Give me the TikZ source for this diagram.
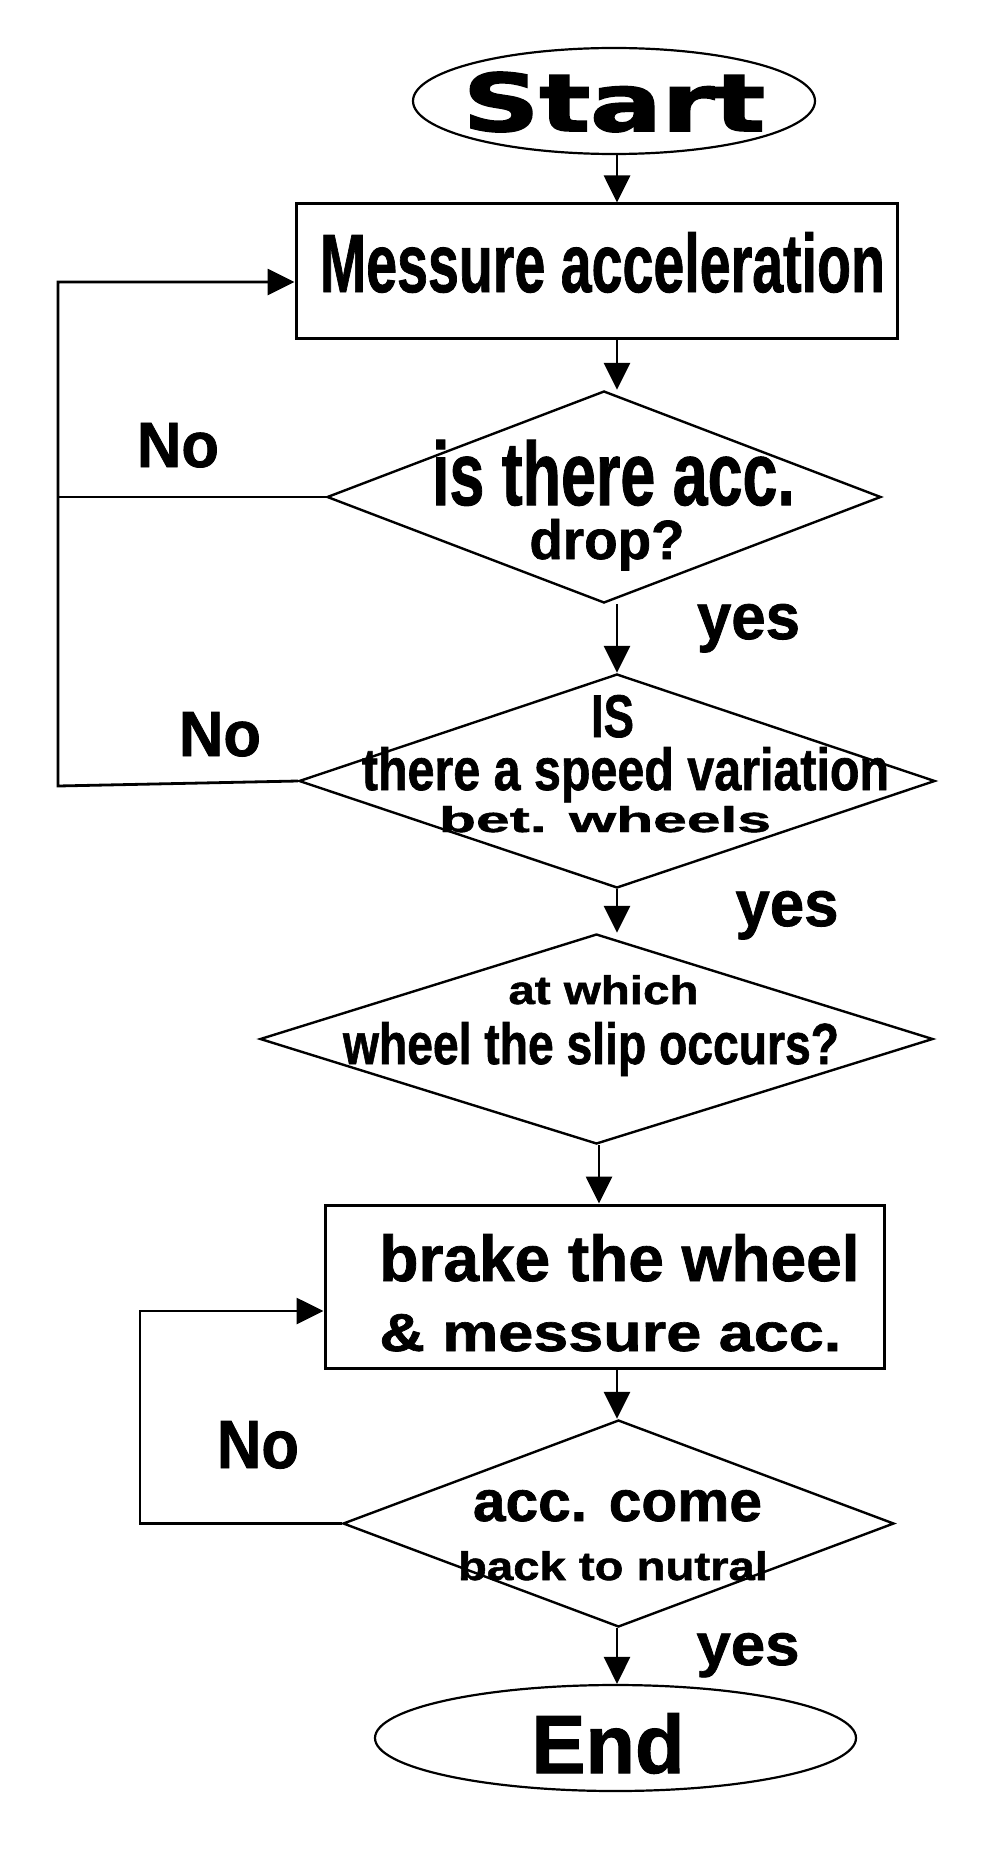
\documentclass[tikz,border=0pt]{standalone}
\usepackage{fontspec}
\setmainfont{Liberation Sans}[BoldFeatures={FakeBold=1.2}]
\newfontfamily\heavyfont{DejaVu Sans}[BoldFeatures={FakeBold=2}]
\usetikzlibrary{arrows.meta,shapes.geometric}
\newcommand{\fit}[3]{\resizebox{#1pt}{#2pt}{\bfseries #3}}
\newcommand{\fitheavy}[3]{\resizebox{#1pt}{#2pt}{\heavyfont\bfseries #3}}
\begin{document}
\begin{tikzpicture}[x=1pt,y=-1pt,
  line width=2.8pt,
  arr/.style={-{Triangle[length=27pt,width=26pt]}},
  lbl/.style={inner sep=0pt, anchor=base},
  shp/.style={draw, line width=2.4pt, inner sep=0pt},
  boxshape/.style={shp, rectangle, line width=3pt},
  ovalshape/.style={shp, ellipse, line width=2.2pt},
  decshape/.style={shp, diamond, line width=2.4pt}]
\useasboundingbox (0,0) rectangle (1000,1862);
\fill[white] (0,0) rectangle (1000,1862);

% shapes
\node[ovalshape, minimum width=402pt, minimum height=106pt] (start) at (614,101) {};
\node[boxshape, minimum width=601pt, minimum height=134pt] (box1) at (596.5,271) {};
\node[decshape, minimum width=554pt, minimum height=212pt] (d1) at (604,497) {};
\node[decshape, minimum width=636pt, minimum height=214pt] (d2) at (617,781) {};
\node[decshape, minimum width=673pt, minimum height=210pt] (d3) at (596.5,1039) {};
\node[boxshape, minimum width=559pt, minimum height=163pt] (box2) at (604.5,1286.5) {};
\node[decshape, minimum width=551pt, minimum height=207pt] (d4) at (618.5,1523.5) {};
\node[ovalshape, minimum width=481pt, minimum height=106pt] (end) at (615.5,1738) {};

% spine coordinates
\coordinate (sp) at (617,0);
\coordinate (sp2) at (599,0);

% main arrows
\draw[arr] (start.south -| sp) -- (box1.north -| sp);
\draw[arr] (box1.south -| sp) -- (d1.north -| sp);
\draw[arr] (d1.south -| sp) -- (d2.north -| sp);
\draw[arr] (d2.south -| sp) -- (d3.north -| sp);
\draw[arr] (d3.south -| sp2) -- (box2.north -| sp2);
\draw[arr] (box2.south -| sp) -- (d4.north -| sp);
\draw[arr] (d4.south -| sp) -- (end.north -| sp);

% loops
\coordinate (l1top) at (58,282);
\coordinate (l1bot) at (58,786);
\draw[arr] (d2.west) -- (l1bot) -- (l1top) -- (l1top -| box1.west);
\draw (d1.west) -- (d1.west -| l1top);
\coordinate (l2top) at (140,1311);
\draw[arr] (d4.west) -- (d4.west -| l2top) -- (l2top) -- (l2top -| box2.west);

% texts
\node[lbl] (tstart) at (614,131) {\fitheavy{302}{59}{Start}};
\node[lbl] (tbox1) at (602.5,292) {\fit{565}{60}{Messure acceleration}};
\node[lbl] (td1a) at (613.5,505) {\fit{363}{65}{is there acc.}};
\node[lbl] (td1b) at (607,559) {\fit{155}{40}{drop?}};
\node[lbl] (td2a) at (612.5,737) {\fit{43}{42}{IS}};
\node[lbl] (td2b) at (625.5,790) {\fit{527}{43}{there a speed variation}};
\node[lbl] (td2c) at (605,832) {\fit{332}{26}{bet. wheels}};
\node[lbl] (td3a) at (603.5,1004) {\fit{190}{29}{at which}};
\node[lbl] (td3b) at (591,1064) {\fit{496}{42}{wheel the slip occurs?}};
\node[lbl, anchor=base west] (tbox2a) at (378,1281) {\fit{480}{47}{brake the wheel}};
\node[lbl, anchor=base west] (tbox2b) at (378,1351) {\fit{462}{37}{\&\ messure acc.}};
\node[lbl] (td4a) at (617.5,1521) {\fit{289}{31}{acc. come}};
\node[lbl] (td4b) at (613,1580) {\fit{310}{29}{back to nutral}};
\node[lbl] (tend) at (608,1773) {\fit{153}{60}{End}};

\node[lbl] (yes1) at (748.5,639) {\fit{103}{35}{yes}};
\node[lbl] (yes2) at (787,926) {\fit{103}{35}{yes}};
\node[lbl] (yes3) at (748,1665) {\fit{103}{32}{yes}};
\node[lbl] (no1) at (178,467) {\fit{82}{44}{No}};
\node[lbl] (no2) at (220,756) {\fit{82}{44}{No}};
\node[lbl] (no3) at (258,1468) {\fit{82}{47}{No}};
\end{tikzpicture}
\end{document}
